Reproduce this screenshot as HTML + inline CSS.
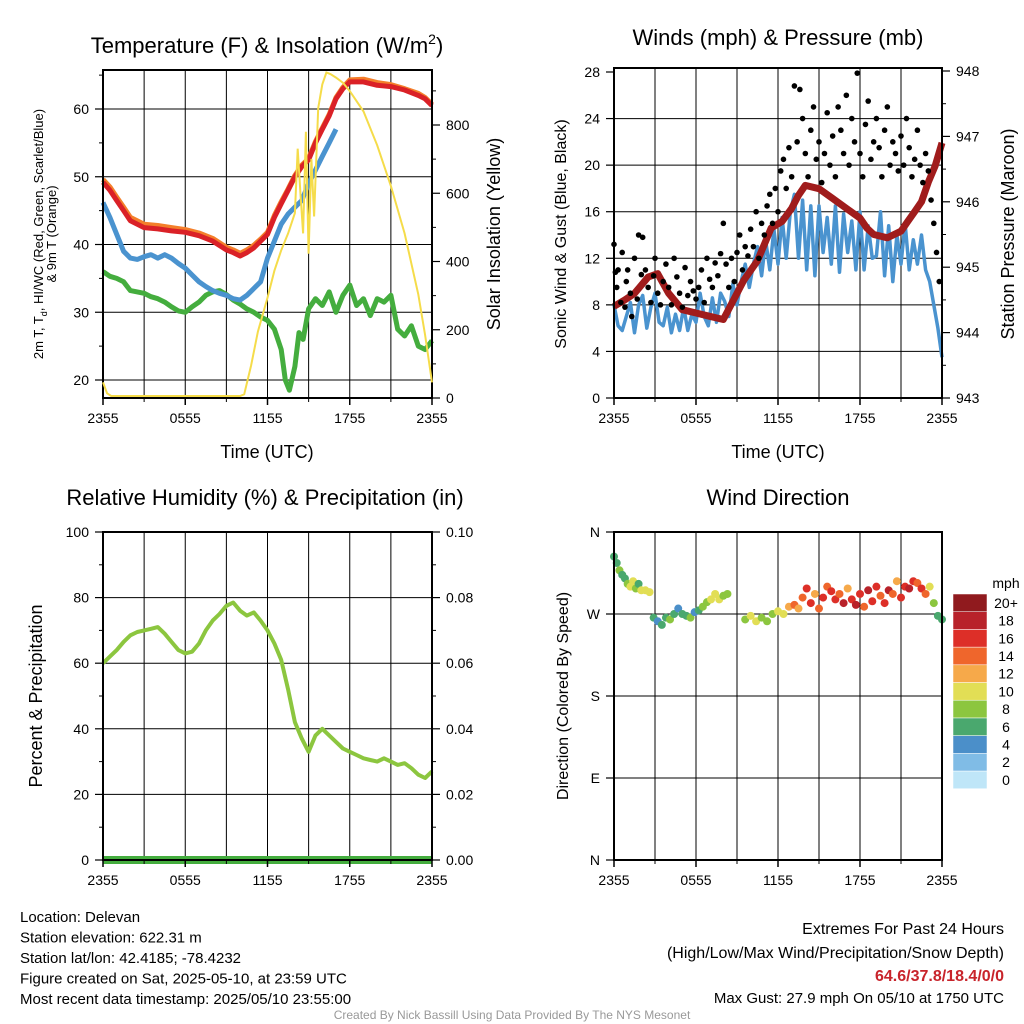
<!DOCTYPE html>
<html><head><meta charset="utf-8">
<style>
html,body{margin:0;padding:0;background:#fff;}
svg{display:block;font-family:"Liberation Sans",Arial,sans-serif;}
</style></head>
<body>
<svg id="chart" width="1024" height="1024" viewBox="0 0 1024 1024" xmlns="http://www.w3.org/2000/svg"></svg>
<script>
// ---------- DATA ----------
const tempT   = [0,0.5,1,1.5,2,3,4,5,6,7,8,9,9.5,10,10.5,11,11.5,12,12.5,13,13.5,14,14.5,15,15.5,16,16.5,17,17.5,18,19,20,21,22,23,23.5,24];
const tempRed = [49.2,48,46.5,45,43.5,42.5,42.3,42,41.8,41.3,40.5,39.2,38.8,38.3,38.8,39.5,40.5,41.5,44,46,48,50,51.5,52.5,55,57,59,61.5,63,64,64,63.5,63.3,62.8,62,61.5,60.5];
const tempOrg = [49.6,48.5,47,45.5,44,43,42.8,42.5,42.2,41.7,40.9,39.6,39.2,38.7,39.2,39.9,40.8,41.8,44.3,46.3,48.2,50.2,51.7,52.7,55.2,57.2,59.2,61.7,63.2,64.3,64.4,63.9,63.6,63,62.3,61.7,60.7];
const dewT    = [0,0.5,1,1.5,2,2.5,3,3.5,4,4.5,5,5.5,6,6.5,7,7.5,8,8.5,9,9.5,10,10.5,11,11.5,12,12.5,13,13.5,14,14.5,15,15.5,16,16.5,17];
const dewV    = [46.2,44,41.5,39,38,37.8,38.2,38.5,38,38.5,38,37.2,36.5,35.5,34.5,33.8,33.2,32.8,32.5,32,31.8,32.5,33.5,34.5,38,40.5,43,44.5,45.5,46.5,49,51,53,55,57];
const chillT  = [0,0.5,1,1.5,2,2.5,3,3.5,4,4.5,5,5.5,6,6.5,7,7.5,8,8.5,9,9.5,10,10.5,11,11.5,12,12.5,13,13.3,13.6,14,14.3,14.6,15,15.5,16,16.5,17,17.5,18,18.5,19,19.5,20,20.5,21,21.5,22,22.5,23,23.5,24];
const chillV  = [36,35.3,35,34.5,33.2,33,32.8,32.3,32,31.5,30.8,30.2,30,30.8,31.5,32.5,33,33.2,32.6,31.8,31.2,30.5,30,29.3,28.8,27.5,24.5,20,18.5,22,27,26,30.5,32,31,33,30,32.5,34,31,32,29.5,32,31.5,32.5,27.5,26.5,28,25,24.5,25.8];
const solT    = [0,0.3,0.6,5,10,10.3,10.8,11.3,12,12.5,13,13.5,14,14.2,14.4,14.6,14.8,15,15.2,15.4,15.7,16,16.3,16.6,17,17.5,18,19,20,21,22,23,23.5,24];
const solV    = [40,8,0,0,0,5,90,190,290,370,430,480,540,730,600,480,780,420,700,530,850,920,955,950,940,925,900,840,740,620,480,300,180,40];
const windT   = [0,0.3,0.6,0.9,1.2,1.5,1.8,2.1,2.4,2.7,3,3.3,3.6,3.9,4.2,4.5,4.8,5.1,5.4,5.7,6,6.3,6.6,6.9,7.2,7.5,7.8,8.1,8.4,8.7,9,9.3,9.6,9.9,10.2,10.5,10.8,11.1,11.4,11.7,12,12.3,12.6,12.9,13.2,13.5,13.8,14.1,14.4,14.7,15,15.3,15.6,15.9,16.2,16.5,16.8,17.1,17.4,17.7,18,18.3,18.6,18.9,19.2,19.5,19.8,20.1,20.4,20.7,21,21.3,21.6,21.9,22.2,22.5,22.8,23.1,23.4,23.7,24];
const windV   = [8,6.2,5.8,7,8.2,5.6,8,8.8,6,7.8,9,6.5,6.2,7.8,5.6,7.2,5.8,7.8,5.8,7.2,6.5,9,7,6.2,8.6,6.5,9,8.3,7,9.8,8,10,11.5,9.5,11.5,13,10.5,13.5,11,14.5,11.5,15.5,12,16,17.5,12,17,11,16.5,10.5,16.5,12.5,15.5,11.5,16.5,10.8,15.8,12.5,15.2,11,16,11,14.8,12,12.2,16,10.5,14.8,10,14,11.5,15,11,13.6,11.5,14,11,10,8,6,3.5];
const presT   = [0,0.8,1.5,2.5,3.2,4,5,6,7,8,8.5,9.5,10.5,11.5,12.3,13,13.5,14,15,16,17,18,18.5,19,20,21,21.5,22,22.5,23,23.5,24];
const presV   = [944.4,944.5,944.6,944.85,944.9,944.6,944.35,944.3,944.25,944.2,944.4,944.8,945.1,945.6,945.7,945.9,946.1,946.25,946.2,946.05,945.9,945.75,945.6,945.5,945.45,945.55,945.7,945.85,946.0,946.3,946.55,946.9];
const gustT   = [0,0.1,0.2,0.3,0.5,0.6,0.8,0.9,1,1.2,1.3,1.5,1.7,1.8,2,2.1,2.3,2.5,2.7,2.9,3,3.2,3.4,3.6,3.8,4,4.2,4.4,4.6,4.8,5,5.2,5.4,5.6,5.8,6,6.2,6.4,6.6,6.8,7,7.2,7.4,7.6,7.8,8,8.2,8.4,8.6,8.8,9,9.2,9.4,9.6,9.8,10,10.2,10.4,10.6,10.8,11,11.2,11.4,11.6,11.8,12,12.2,12.4,12.6,12.8,13,13.2,13.4,13.6,13.8,14,14.2,14.4,14.6,14.8,15,15.2,15.4,15.6,15.8,16,16.2,16.4,16.6,16.8,17,17.2,17.4,17.6,17.8,18,18.2,18.4,18.6,18.8,19,19.2,19.4,19.6,19.8,20,20.2,20.4,20.6,20.8,21,21.2,21.4,21.6,21.8,22,22.2,22.4,22.6,22.8,23,23.2,23.4,23.6,23.8];
const gustV   = [13.2,10.8,9.5,11,8.2,12.5,7.8,10,11,9,7,12,8.5,14,10.6,13.8,11,9.5,8.2,10.5,12,9,8,10,11.5,9.5,8,12,10.4,9,7.8,11.2,8.8,10,9.2,8.5,9.5,11,8.2,12,10.2,9.5,11.6,10.5,12.4,15,11.5,9.5,12,10,12.5,14,11,13,12.2,14.5,13,16,12,15,14,16.5,17.5,15,18,16,19.5,20.5,18,21.5,19,26.8,22,26.5,24,21,19,23,25,20.5,22,18.5,21,24.5,20,22.5,19,25,23,21,26,20,24,22,27.9,21,19,23.5,25.5,20.5,22,24,21.5,19,23,25,20,22,21,19.5,22.5,20,24,21.5,19,20.5,23,20,18.5,21,19.5,17,15,12.5,10];
const rhT     = [0,0.5,1,1.5,2,2.5,3,3.5,4,4.5,5,5.5,6,6.5,7,7.5,8,8.5,9,9.5,10,10.5,11,11.5,12,12.5,13,13.5,14,14.5,15,15.5,16,16.5,17,17.5,18,18.5,19,19.5,20,20.5,21,21.5,22,22.5,23,23.5,24];
const rhV     = [60,62,64,66.5,68.5,69.5,70,70.5,71,69,66.5,64,63,63.5,66,70,73,75,77.5,78.5,76,74.5,75.5,73,70,66,61,52,42,37,33,38,40,38,36,34,33,32,31,30.5,30,31,30,29,29.5,28,26,25,27];
const precipT = [0,24];
const precipV = [0,0];
const dirT    = [0,0.2,0.4,0.6,0.8,1,1.2,1.4,1.6,1.8,2,2.3,2.6,2.9,3.2,3.5,3.8,4.1,4.4,4.7,5,5.3,5.6,5.9,6.2,6.5,6.8,7.1,7.4,7.7,8,8.3,9.6,10,10.4,10.8,11.2,11.6,12,12.4,12.8,13.2,13.5,13.8,14.1,14.4,14.7,15,15.3,15.6,15.9,16.2,16.5,16.8,17.1,17.4,17.7,18,18.3,18.6,18.9,19.2,19.5,19.8,20.1,20.4,20.7,21,21.3,21.6,21.9,22.2,22.5,22.8,23.1,23.4,23.7,24];
const dirV    = [333,326,318,313,309,303,300,306,298,303,296,296,294,266,262,258,266,264,270,276,270,268,266,272,274,278,283,286,292,286,290,292,264,268,262,266,262,270,273,270,278,280,276,288,298,282,292,276,288,300,295,286,292,282,298,286,280,292,278,296,284,300,290,282,296,292,306,288,300,298,306,304,298,292,300,282,268,264];
const dirS    = [6,7,8,7,6,9,10,11,8,7,10,11,10,6,5,7,6,8,6,5,6,7,8,5,7,8,9,10,11,10,9,8,9,10,11,9,8,9,11,10,12,14,13,15,17,16,13,15,16,14,17,16,15,18,13,16,18,17,15,18,16,17,14,16,18,15,12,17,16,18,17,15,16,14,10,8,7,6];
const cbLabels = ["0","2","4","6","8","10","12","14","16","18","20+"];
const cbColors = ["#bfe6f8","#80bce6","#4b8fc9","#4aa86e","#8cc63f","#e2de55","#f6a94a","#ef662c","#dd2f28","#b8222a","#901a1e"];

// ---------- HELPERS ----------
const NS="http://www.w3.org/2000/svg";
const svg=document.getElementById('chart');
function mk(tag,attrs,parent){const e=document.createElementNS(NS,tag);for(const k in attrs)e.setAttribute(k,attrs[k]);(parent||svg).appendChild(e);return e;}
function txt(x,y,s,size,anchor,parent,extra){const e=mk('text',Object.assign({x:x,y:y,'font-size':size,'text-anchor':anchor||'middle',fill:'#000'},extra||{}),parent);e.textContent=s;return e;}
function lin(d0,d1,r0,r1){return v=>r0+(v-d0)/(d1-d0)*(r1-r0);}
function pathFrom(xs,ys,fx,fy){return xs.map((t,i)=>(i?'L':'M')+fx(t).toFixed(1)+','+fy(ys[i]).toFixed(1)).join('');}
function spdColor(s){let i=Math.min(10,Math.max(0,Math.floor(s/2)));return cbColors[i];}

function frame(g,x0,y0,x1,y1,hGrid,vGrid){
  hGrid.forEach(y=>{const l=mk('line',{x1:x0,x2:x1,y1:y,y2:y,stroke:'#000','stroke-width':1},g);});
  vGrid.forEach(x=>{const l=mk('line',{x1:x,x2:x,y1:y0,y2:y1,stroke:'#000','stroke-width':1},g);});
}
function border(g,x0,y0,x1,y1){const r=mk('rect',{x:x0,y:y0,width:x1-x0,height:y1-y0,fill:'none',stroke:'#000','stroke-width':2},g);}
function xAxis(g,x0,x1,y1){
  const fx=lin(0,24,x0,x1);
  ["2355","0555","1155","1755","2355"].forEach((s,i)=>{const x=fx(i*6);
    mk('line',{x1:x,x2:x,y1:y1,y2:y1+7,stroke:'#000','stroke-width':1.5},g);
    const t=txt(x,y1+25,s,14,'middle',g);});
  for(let h=3;h<24;h+=6){mk('line',{x1:fx(h),x2:fx(h),y1:y1,y2:y1+4,stroke:'#000'},g);}
}
function yTicks(g,x,vals,fy,side,fmt,minor){
  vals.forEach(v=>{const y=fy(v);const dx=side<0?-8:8;
    mk('line',{x1:x,x2:x+dx,y1:y,y2:y,stroke:'#000','stroke-width':1.2},g);
    const t=txt(x+(side<0?-14:14),y+5,fmt(v),14,side<0?'end':'start',g);});
  (minor||[]).forEach(v=>{const y=fy(v);mk('line',{x1:x,x2:x+(side<0?-4:4),y1:y,y2:y,stroke:'#000'},g);});
}

// ---------- PANEL 1 ----------
(function(){
  const g=mk('g',{});
  const x0=103,x1=432,y0=70,y1=398;
  const fx=lin(0,24,x0,x1), fy=lin(20,60,380,109), fs=lin(0,800,396,125);
  frame(g,x0,y0,x1,y1,[20,30,40,50,60].map(fy),[0,3,6,9,12,15,18,21].map(fx));
  const d=[[chillT,chillV,'#44ad3e','wind-chill-line'],[dewT,dewV,'#4a93cf','dewpoint-line'],[tempT,tempOrg,'#f47f2a','temp-9m-line'],[tempT,tempRed,'#da2127','temp-2m-line']];
  d.forEach(s=>{const p=mk('path',{d:pathFrom(s[0],s[1],fx,fy),fill:'none',stroke:s[2],'stroke-width':5,'stroke-linejoin':'round'},g);});
  border(g,x0,y0,x1,y1);
  const sp=mk('path',{d:pathFrom(solT,solV,fx,fs),fill:'none',stroke:'#f5dc4a','stroke-width':2},g);
  
  
  yTicks(g,x0,[20,30,40,50,60],fy,-1,v=>v,[25,35,45,55,65]);
  yTicks(g,x1,[0,200,400,600,800],lin(0,800,398,125),1,v=>v,[100,300,500,700,900]);
  xAxis(g,x0,x1,y1);
  const t=txt(267,53,'',22,'middle',g);
  t.innerHTML='Temperature (F) &amp; Insolation (W/m<tspan dy="-9" font-size="14">2</tspan><tspan dy="9">)</tspan>';
  const xl=txt(267,458,'Time (UTC)',18,'middle',g);
  const yl=mk('text',{transform:'translate(43,234) rotate(-90)','font-size':13,'text-anchor':'middle'},g);
  yl.innerHTML='2m T, T<tspan dy="4" font-size="9">d</tspan><tspan dy="-4">, HI/WC (Red, Green, Scarlet/Blue)</tspan>';
  const yl2=mk('text',{transform:'translate(56,234) rotate(-90)','font-size':13,'text-anchor':'middle'},g);yl2.textContent='& 9m T (Orange)';
  const yr=mk('text',{transform:'translate(500,234) rotate(-90)','font-size':18,'text-anchor':'middle'},g);yr.textContent='Solar Insolation (Yellow)';
})();

// ---------- PANEL 2 ----------
(function(){
  const g=mk('g',{});
  const x0=614,x1=942,y0=68,y1=398;
  const fx=lin(0,24,x0,x1), fy=lin(0,28,398,72), fp=lin(943,948,398,71);
  frame(g,x0,y0,x1,y1,[4,8,12,16,20,24].map(fy),[3,6,9,12,15,18,21].map(fx));
  const w=mk('path',{d:pathFrom(windT,windV,fx,fy),fill:'none',stroke:'#4a93cf','stroke-width':3.5,'stroke-linejoin':'round'},g);
  
  
  const p=mk('path',{d:pathFrom(presT,presV,fx,fp),fill:'none',stroke:'#a01c1c','stroke-width':7,'stroke-linejoin':'round'},g);
  
  
  gustT.forEach((t,i)=>{const c=mk('circle',{cx:fx(t),cy:fy(gustV[i]),r:2.8,fill:'#000'},g);
    
    });
  border(g,x0,y0,x1,y1);
  yTicks(g,x0,[0,4,8,12,16,20,24,28],fy,-1,v=>v);
  yTicks(g,x1,[943,944,945,946,947,948],fp,1,v=>v,[943.5,944.5,945.5,946.5,947.5]);
  xAxis(g,x0,x1,y1);
  const t=txt(778,45,'Winds (mph) & Pressure (mb)',22,'middle',g);
  const xl=txt(778,458,'Time (UTC)',18,'middle',g);
  const yl=mk('text',{transform:'translate(566,234) rotate(-90)','font-size':16,'text-anchor':'middle'},g);yl.textContent='Sonic Wind & Gust (Blue, Black)';
  const yr=mk('text',{transform:'translate(1014,234) rotate(-90)','font-size':18,'text-anchor':'middle'},g);yr.textContent='Station Pressure (Maroon)';
})();

// ---------- PANEL 3 ----------
(function(){
  const g=mk('g',{});
  const x0=103,x1=432,y0=532,y1=860;
  const fx=lin(0,24,x0,x1), fy=lin(0,100,860,532), fpr=lin(0,0.1,860,532);
  frame(g,x0,y0,x1,y1,[20,40,60,80].map(fy),[3,6,9,12,15,18,21].map(fx));
  const r=mk('path',{d:pathFrom(rhT,rhV,fx,fy),fill:'none',stroke:'#8cc63f','stroke-width':4,'stroke-linejoin':'round'},g);
  
  
  const pr=mk('path',{d:pathFrom(precipT,precipV,fx,fpr),fill:'none',stroke:'#44ad3e','stroke-width':8},g);
  
  
  border(g,x0,y0,x1,y1);
  yTicks(g,x0,[0,20,40,60,80,100],fy,-1,v=>v,[10,30,50,70,90]);
  yTicks(g,x1,[0,0.02,0.04,0.06,0.08,0.1],fpr,1,v=>v.toFixed(2),[0.01,0.03,0.05,0.07,0.09]);
  xAxis(g,x0,x1,y1);
  const t=txt(265,505,'Relative Humidity (%) & Precipitation (in)',22,'middle',g);
  const yl=mk('text',{transform:'translate(42,696) rotate(-90)','font-size':18,'text-anchor':'middle'},g);yl.textContent='Percent & Precipitation';
})();

// ---------- PANEL 4 ----------
(function(){
  const g=mk('g',{});
  const x0=614,x1=942,y0=532,y1=860;
  const fx=lin(0,24,x0,x1), fy=lin(0,360,860,532);
  frame(g,x0,y0,x1,y1,[90,180,270].map(fy),[3,6,9,12,15,18,21].map(fx));
  dirT.forEach((t,i)=>{const c=mk('circle',{cx:fx(t),cy:fy(dirV[i]),r:4,fill:spdColor(dirS[i])},g);
    
    });
  border(g,x0,y0,x1,y1);
  yTicks(g,x0,[0,90,180,270,360],fy,-1,v=>({0:'N',90:'E',180:'S',270:'W',360:'N'})[v]);
  xAxis(g,x0,x1,y1);
  const t=txt(778,505,'Wind Direction',22,'middle',g);
  const yl=mk('text',{transform:'translate(568,696) rotate(-90)','font-size':16,'text-anchor':'middle'},g);yl.textContent='Direction (Colored By Speed)';
  const cb=mk('g',{},g);
  const bh=17.7, top=594;
  cbColors.forEach((c,i)=>{const y=top+(10-i)*bh;
    const r=mk('rect',{x:953,y:y,width:34,height:bh,fill:c,stroke:'#fff','stroke-width':0.5},cb);
    
    
    const l=txt(1006,y+bh/2+5,cbLabels[i],14,'middle',cb);
    
    });
  const u=txt(1006,588,'mph',14,'middle',cb);
})();

// ---------- FOOTER ----------
(function(){
  const g=mk('g',{});
  const L=["Location: Delevan","Station elevation: 622.31 m","Station lat/lon: 42.4185; -78.4232","Figure created on Sat, 2025-05-10, at 23:59 UTC","Most recent data timestamp: 2025/05/10 23:55:00"];
  L.forEach((s,i)=>{const t=txt(20,922+i*20.5,s,15,'start',g);});
  const a=txt(1004,934,'Extremes For Past 24 Hours',16,'end',g);
  const b=txt(1004,958,'(High/Low/Max Wind/Precipitation/Snow Depth)',16,'end',g);
  const c=txt(1004,981,'64.6/37.8/18.4/0/0',16,'end',g,{fill:'#c8242b','font-weight':'bold'});
  const d=txt(1004,1003,'Max Gust: 27.9 mph On 05/10 at 1750 UTC',15,'end',g);
  const e=txt(512,1019,'Created By Nick Bassill Using Data Provided By The NYS Mesonet',12,'middle',g,{fill:'#999'});
})();
</script>
</body></html>
